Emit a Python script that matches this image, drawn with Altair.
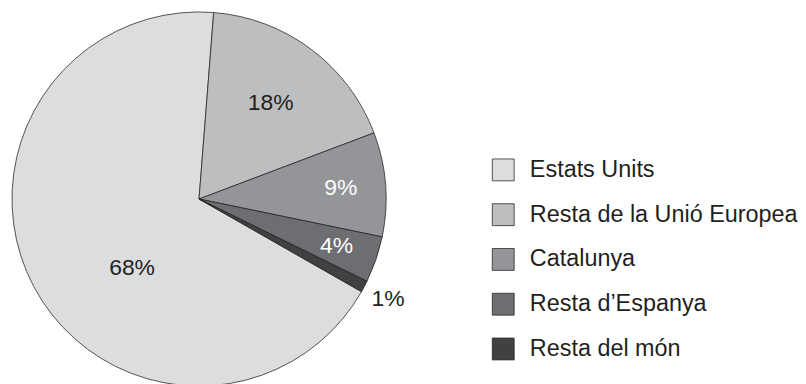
import math
import altair as alt
import pandas as pd

categories = ["Estats Units", "Resta de la Unió Europea", "Catalunya", "Resta d’Espanya", "Resta del món"]
values = [68, 18, 9, 4, 1]
labels = ["68%", "18%", "9%", "4%", "1%"]
slice_order = [5, 1, 2, 3, 4]
colors = ["#dcdddf", "#bcbec0", "#939598", "#6d6e71", "#414042"]

df = pd.DataFrame({"cat": categories, "value": values, "label": labels, "ord": slice_order})

FONT = "Liberation Sans"
INK = "#231f20"
start = 0.0785

theta = alt.Theta("value:Q", stack=True,
                  scale=alt.Scale(range=[start, start + 2 * math.pi]))
base = alt.Chart(df).encode(theta=theta, order=alt.Order("ord:Q"))

pie = base.mark_arc(outerRadius=188, stroke=INK, strokeWidth=0.75).encode(
    color=alt.Color(
        "cat:N",
        scale=alt.Scale(domain=categories, range=colors),
        sort=categories,
        legend=alt.Legend(
            title=None, orient="none", legendX=486, legendY=150,
            symbolType="square", symbolSize=484, symbolStrokeColor=INK,
            symbolStrokeWidth=0.75, symbolOpacity=1,
            labelFontSize=23.5, labelFont=FONT, labelColor=INK,
            labelOffset=15, rowPadding=19, padding=0, labelLimit=400,
        ),
    )
)


def lab(cat, r, color, dx=0, dy=0):
    return base.mark_text(radius=r, fontSize=23, font=FONT, color=color,
                          dx=dx, dy=dy, align="center", baseline="middle").encode(
        text=alt.condition(alt.datum.cat == cat, "label:N", alt.value(""))
    )


chart = alt.layer(
    pie,
    lab(categories[1], 120, INK),
    lab(categories[2], 143, "white"),
    lab(categories[3], 146, "white"),
    lab(categories[4], 215, INK),
    lab(categories[0], 92, INK, dx=14, dy=26),
).properties(width=384, height=382, padding=0).configure_view(stroke=None)

chart.save("out.html", embed_options={"renderer": "svg", "actions": False})
